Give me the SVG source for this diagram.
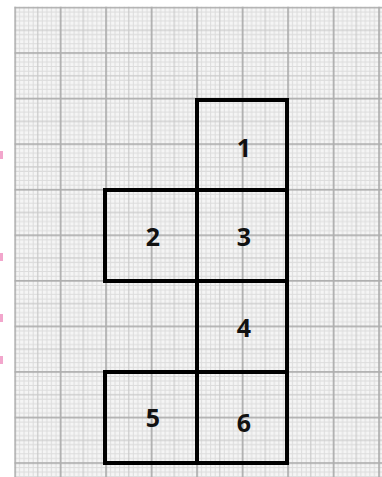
<svg xmlns="http://www.w3.org/2000/svg" width="382" height="477" viewBox="0 0 382 477">
  <style>
    .sq { fill: none; stroke: #000; stroke-width: 4; stroke-linejoin: miter; }
    .lbl { font-family: "Open Sans", "Liberation Sans", sans-serif; font-weight: bold; font-size: 25px; fill: #111; text-anchor: middle; }
    .pink { fill: #f2a6cc; }
    .minor { stroke: #dcdcdc; stroke-width: 1; }
    .mid { stroke: #cacaca; stroke-width: 1.2; }
    .major { stroke: #aeaeae; stroke-width: 1.8; }
  </style>
  <defs>
    <pattern id="grid" patternUnits="userSpaceOnUse" x="14.2" y="6.6" width="45.5" height="45.56">
      <rect width="45.5" height="45.56" fill="#f5f5f5"/>
      <g class="minor">
        <line x1="5.35" y1="0" x2="5.35" y2="45.56"/>
        <line x1="9.9" y1="0" x2="9.9" y2="45.56"/>
        <line x1="14.45" y1="0" x2="14.45" y2="45.56"/>
        <line x1="19" y1="0" x2="19" y2="45.56"/>
        <line x1="28.1" y1="0" x2="28.1" y2="45.56"/>
        <line x1="32.65" y1="0" x2="32.65" y2="45.56"/>
        <line x1="37.2" y1="0" x2="37.2" y2="45.56"/>
        <line x1="41.75" y1="0" x2="41.75" y2="45.56"/>
        <line y1="5.35" x1="0" y2="5.35" x2="45.5"/>
        <line y1="9.9" x1="0" y2="9.9" x2="45.5"/>
        <line y1="14.45" x1="0" y2="14.45" x2="45.5"/>
        <line y1="19" x1="0" y2="19" x2="45.5"/>
        <line y1="28.1" x1="0" y2="28.1" x2="45.5"/>
        <line y1="32.65" x1="0" y2="32.65" x2="45.5"/>
        <line y1="37.2" x1="0" y2="37.2" x2="45.5"/>
        <line y1="41.75" x1="0" y2="41.75" x2="45.5"/>
      </g>
      <g class="mid">
        <line x1="23.55" y1="0" x2="23.55" y2="45.56"/>
        <line y1="23.55" x1="0" y2="23.55" x2="45.5"/>
      </g>
      <g class="major">
        <line x1="0.9" y1="0" x2="0.9" y2="45.56"/>
        <line y1="0.9" x1="0" y2="0.9" x2="45.5"/>
      </g>
    </pattern>
  </defs>
  <rect width="382" height="477" fill="#ffffff"/>
  <rect x="14.2" y="6.6" width="367.8" height="470.4" fill="url(#grid)"/>
  <g id="margin-marks">
    <rect class="pink" x="0" y="151" width="3" height="8"/>
    <rect class="pink" x="0" y="253" width="3" height="8"/>
    <rect class="pink" x="0" y="314" width="3" height="8"/>
    <rect class="pink" x="0" y="356" width="3" height="8"/>
  </g>
  <g id="connectors"></g>
  <g id="square-1">
    <rect class="sq" x="197" y="100" width="90" height="90"/>
    <text class="lbl" x="244" y="157">1</text>
  </g>
  <g id="square-2">
    <rect class="sq" x="105" y="190" width="92" height="91"/>
    <text class="lbl" x="153" y="246">2</text>
  </g>
  <g id="square-3">
    <rect class="sq" x="197" y="190" width="90" height="91"/>
    <text class="lbl" x="244" y="246">3</text>
  </g>
  <g id="square-4">
    <rect class="sq" x="197" y="281" width="90" height="91"/>
    <text class="lbl" x="244" y="337">4</text>
  </g>
  <g id="square-5">
    <rect class="sq" x="105" y="372" width="92" height="91"/>
    <text class="lbl" x="153" y="427">5</text>
  </g>
  <g id="square-6">
    <rect class="sq" x="197" y="372" width="90" height="91"/>
    <text class="lbl" x="244" y="432">6</text>
  </g>
</svg>
